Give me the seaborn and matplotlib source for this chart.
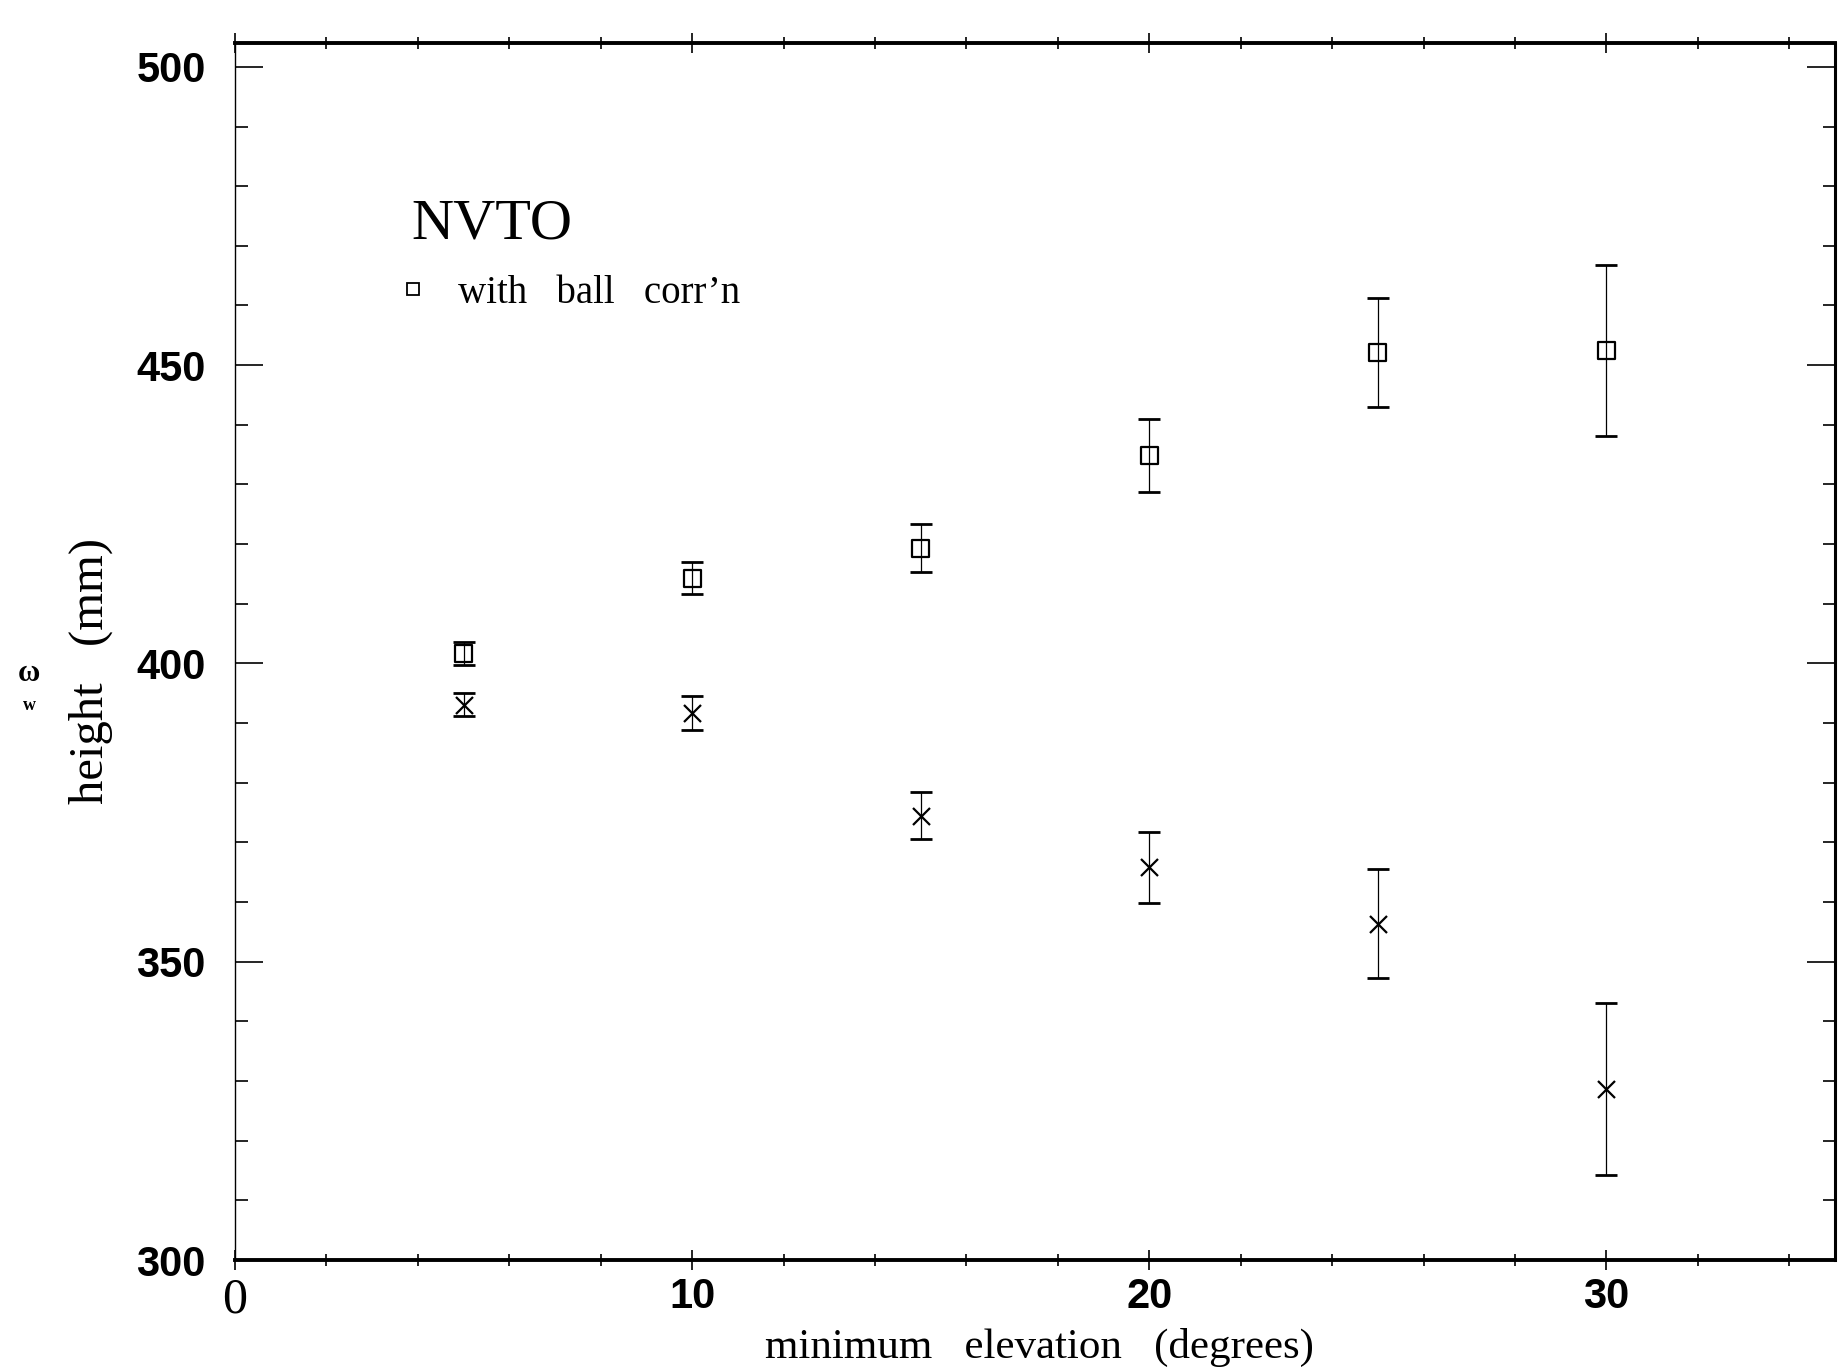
import numpy as np
import pandas as pd
import matplotlib
matplotlib.use("Agg")
import matplotlib.pyplot as plt
import seaborn as sns
from matplotlib.lines import Line2D
from matplotlib.ticker import MultipleLocator

# ---- data ----
elevation = [5, 10, 15, 20, 25, 30]
height_ball = [401.7, 414.3, 419.3, 434.8, 452.1, 452.5]
err_ball = [1.9, 2.7, 4.0, 6.1, 9.1, 14.3]
height_plain = [393.1, 391.7, 374.5, 365.8, 356.4, 328.6]
err_plain = [1.9, 2.8, 4.0, 6.0, 9.1, 14.4]
x_ticks = [0, 10, 20, 30]
x_labels = ["0", "10", "20", "30"]
y_ticks = [300, 350, 400, 450, 500]
y_labels = ["300", "350", "400", "450", "500"]
legend_title = "NVTO"
legend_label = "with   ball   corr\u2019n"

sns.set_theme(style="ticks")
plt.rcParams["font.family"] = ["Liberation Serif", "DejaVu Serif"]
plt.rcParams.update({"text.color": "black", "axes.labelcolor": "black",
                     "xtick.color": "black", "ytick.color": "black",
                     "axes.edgecolor": "black"})

df_ball = pd.DataFrame({"elev": elevation, "h": height_ball, "e": err_ball})
df_plain = pd.DataFrame({"elev": elevation, "h": height_plain, "e": err_plain})

fig = plt.figure(figsize=(18.42, 13.69), dpi=100)
fig.patch.set_facecolor("white")
ax = fig.add_axes([0.1276, 0.0796, 0.8686, 0.8890])
ax.set_facecolor("white")

# error bars
ax.errorbar(df_ball["elev"], df_ball["h"], yerr=df_ball["e"], fmt="none",
            ecolor="black", elinewidth=0.9, capsize=8, capthick=2.0, zorder=2)
ax.errorbar(df_plain["elev"], df_plain["h"], yerr=df_plain["e"], fmt="none",
            ecolor="black", elinewidth=0.9, capsize=8, capthick=2.0, zorder=2)

# markers
sns.scatterplot(data=df_ball, x="elev", y="h", marker="s", s=150,
                facecolors="none", edgecolor="black", linewidth=1.6,
                ax=ax, zorder=3, legend=False)
sns.scatterplot(data=df_plain, x="elev", y="h", marker="x", s=150,
                color="black", linewidth=1.6, ax=ax, zorder=3, legend=False)

ax.set_xlim(0, 35)
ax.set_ylim(300, 504)
ax.set_xticks(x_ticks)
ax.set_xticklabels(x_labels)
ax.set_yticks(y_ticks)
ax.set_yticklabels(y_labels)
ax.xaxis.set_minor_locator(MultipleLocator(2))
ax.yaxis.set_minor_locator(MultipleLocator(10))

ax.tick_params(axis="y", which="major", direction="in", length=20, width=1.2,
               left=True, right=True, pad=21, labelsize=30, color="black",
               labelcolor="black")
ax.tick_params(axis="y", which="minor", direction="in", length=9, width=1.2,
               left=True, right=True, color="black")
ax.tick_params(axis="x", which="major", direction="inout", length=14, width=1.2,
               top=True, bottom=True, pad=5, labelsize=30, color="black",
               labelcolor="black")
ax.tick_params(axis="x", which="minor", direction="inout", length=9, width=1.2,
               top=True, bottom=True, color="black")

for lab in ax.get_yticklabels() + ax.get_xticklabels():
    lab.set_fontfamily(["Liberation Sans", "DejaVu Sans"])
    lab.set_fontweight("bold")
    lab.set_color("black")
zero = ax.get_xticklabels()[0]
zero.set_fontfamily(["Liberation Serif", "DejaVu Serif"])
zero.set_fontweight("normal")
zero.set_fontsize(36)

for side, lw in [("top", 2.8), ("bottom", 2.8), ("left", 1.0), ("right", 2.2)]:
    ax.spines[side].set_linewidth(lw)
    ax.spines[side].set_color("black")

ax.set_xlabel("minimum   elevation   (degrees)", fontsize=31, color="black")
ax.set_ylabel("height   (mm)", fontsize=35, color="black")
ax.xaxis.set_label_coords(0.503, -0.0555)
ax.yaxis.set_label_coords(-0.0763, 0.484)

handle = Line2D([], [], marker="s", linestyle="none", markerfacecolor="none",
                markeredgecolor="black", markersize=8, markeredgewidth=1.3)
leg = ax.legend(handles=[handle], labels=[legend_label], title=legend_title,
                loc="upper left", bbox_to_anchor=(0.110, 0.872),
                frameon=False, alignment="left", borderpad=0, borderaxespad=0,
                handlelength=0.1, handletextpad=1.1, labelspacing=0.62,
                fontsize=28, title_fontsize=42)
for t in leg.get_texts():
    t.set_color("black")
leg.get_title().set_color("black")

# stray scan marks at the far left
fig.text(29 / 1842, 1 - 674 / 1369, "\u03c9", fontsize=22, fontweight="bold",
         ha="center", va="center", color="black")
fig.text(29 / 1842, 1 - 706 / 1369, "w", fontsize=13, fontweight="bold",
         ha="center", va="center", color="black")

fig.savefig("out.png", dpi=100, facecolor="white")
